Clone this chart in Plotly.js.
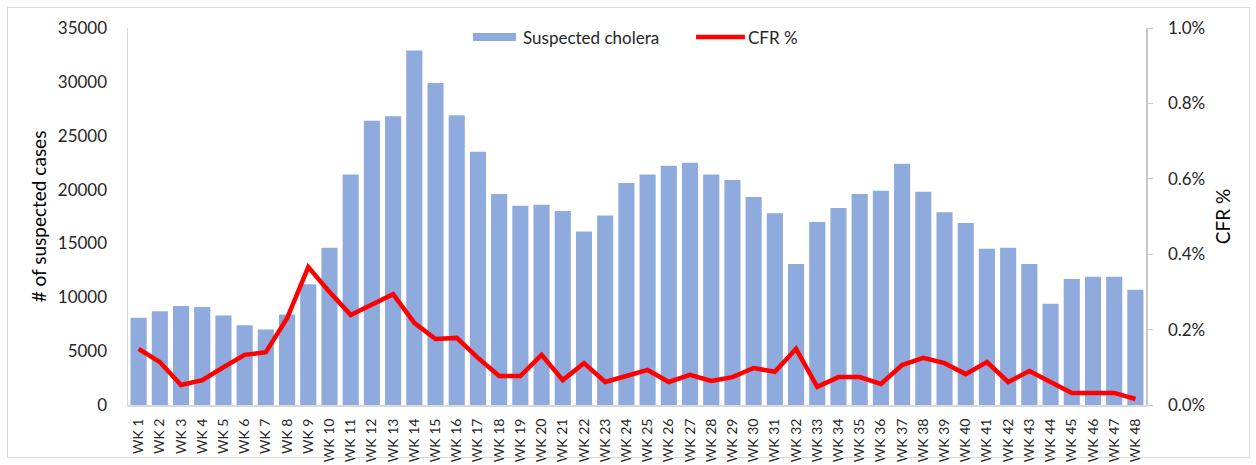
<!DOCTYPE html>
<html>
<head>
<meta charset="utf-8">
<script src="https://cdn.plot.ly/plotly-3.0.1.min.js"></script>
<style>
html,body{margin:0;padding:0;background:#fff;}
#chart{position:absolute;left:0;top:0;width:1256px;height:465px;}
#frame{position:absolute;left:7px;top:7px;width:1241px;height:449px;border:1px solid #d9d9d9;pointer-events:none;}
</style>
</head>
<body>
<div id="chart"></div>
<div id="frame"></div>
<script>
const weeks = ["WK 1","WK 2","WK 3","WK 4","WK 5","WK 6","WK 7","WK 8","WK 9","WK 10","WK 11","WK 12","WK 13","WK 14","WK 15","WK 16","WK 17","WK 18","WK 19","WK 20","WK 21","WK 22","WK 23","WK 24","WK 25","WK 26","WK 27","WK 28","WK 29","WK 30","WK 31","WK 32","WK 33","WK 34","WK 35","WK 36","WK 37","WK 38","WK 39","WK 40","WK 41","WK 42","WK 43","WK 44","WK 45","WK 46","WK 47","WK 48"];
const suspectedCases = [8100,8700,9200,9100,8300,7400,7000,8400,11200,14600,21400,26400,26800,32900,29900,26900,23500,19600,18500,18600,18000,16100,17600,20600,21400,22200,22500,21400,20900,19300,17800,13100,17000,18300,19600,19900,22400,19800,17900,16900,14500,14600,13100,9400,11700,11900,11900,10700];
const cfrPercent = [0.149,0.114,0.053,0.066,0.100,0.133,0.140,0.230,0.366,0.300,0.239,0.268,0.294,0.218,0.175,0.178,0.125,0.077,0.077,0.133,0.066,0.111,0.061,0.077,0.093,0.061,0.080,0.064,0.074,0.098,0.088,0.149,0.048,0.074,0.074,0.056,0.106,0.125,0.111,0.082,0.114,0.061,0.090,0.061,0.032,0.032,0.032,0.016];
const leftTicks = [0,5000,10000,15000,20000,25000,30000,35000];
const seriesNames = ['Suspected cholera','CFR %'];
const barColor = '#8faadc';
const lineColor = '#ff0000';

const fontFam = "Lato, 'Open Sans', sans-serif";
const data = [
  {type:'bar', x:weeks, y:suspectedCases, name:seriesNames[0], showlegend:false,
   marker:{color:barColor}},
  {type:'scatter', mode:'lines', x:weeks, y:cfrPercent.map(v=>v/100), name:seriesNames[1], yaxis:'y2', showlegend:false,
   line:{color:lineColor, width:4.5}}
];
const layout = {
  width:1256, height:465,
  margin:{l:128, r:110, t:28, b:60},
  paper_bgcolor:'#fff', plot_bgcolor:'#fff',
  font:{family:fontFam, color:'#000', size:16},
  bargap:0.24,
  showlegend:false,
  shapes:[
    {type:'rect', xref:'paper', yref:'paper', x0:0.3389, x1:0.3811, y0:0.9655, y1:0.9867,
     fillcolor:barColor, line:{width:0}},
    {type:'line', xref:'paper', yref:'paper', x0:0.558, x1:0.606, y0:0.9761, y1:0.9761,
     line:{color:lineColor, width:4.5}}
  ],
  annotations:[
    {xref:'paper', yref:'paper', x:0.3861, y:0.9761, xanchor:'left', yanchor:'middle', showarrow:false,
     text:seriesNames[0], font:{size:17, color:'#262626'}},
    {xref:'paper', yref:'paper', x:0.607, y:0.9761, xanchor:'left', yanchor:'middle', showarrow:false,
     text:seriesNames[1], font:{size:17, color:'#262626'}}
  ],
  xaxis:{type:'category', tickangle:-90, tickfont:{size:14, color:'#262626'},
    showline:true, linecolor:'#d9d9d9', linewidth:2, ticks:'', showgrid:false, automargin:false,
    ticklabelstandoff:6},
  yaxis:{range:[0,35000], tickvals:leftTicks, ticktext:leftTicks.map(String), showgrid:false,
    showline:true, linecolor:'#d9d9d9', linewidth:1.5, ticks:'', zeroline:false,
    tickfont:{size:17, color:'#262626'}, ticklabelstandoff:16, automargin:false,
    title:{text:'# of suspected cases', font:{size:19, color:'#000'}, standoff:6}},
  yaxis2:{overlaying:'y', side:'right', range:[0,0.01], dtick:0.002, tickformat:'.1%',
    showgrid:false, showline:true, linecolor:'#c8c8c8', linewidth:1.5, ticks:'outside', ticklen:5,
    tickcolor:'#c8c8c8', zeroline:false, tickfont:{size:17, color:'#262626'}, ticklabelstandoff:12,
    automargin:false,
    title:{text:'CFR %', font:{size:19, color:'#000'}, standoff:12}}
};
Plotly.newPlot('chart', data, layout, {displayModeBar:false, staticPlot:true});
</script>
</body>
</html>
